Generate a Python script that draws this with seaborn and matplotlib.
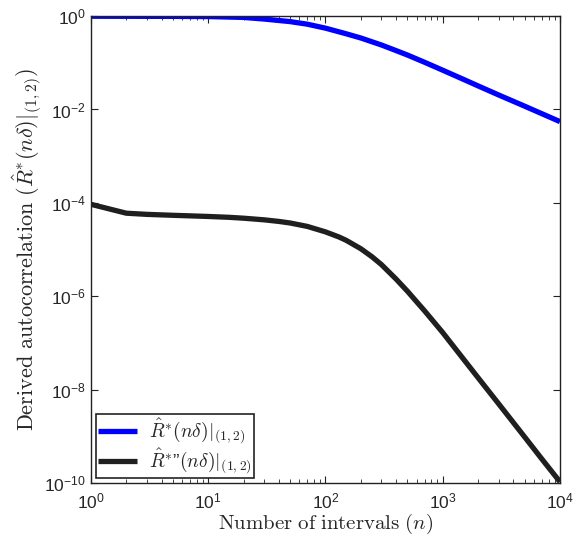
import numpy as np
import pandas as pd
import matplotlib
matplotlib.use("Agg")
import matplotlib.pyplot as plt
import matplotlib.ticker as mticker
import seaborn as sns

# Data (log10 of values)
n_blue = [1, 2, 5, 10, 20, 30, 50, 70, 100, 150, 200, 300, 400, 500, 700,
          1000, 1500, 2000, 3000, 5000, 7000, 10000]
log_blue = [-0.005, -0.006, -0.008, -0.012, -0.03, -0.065, -0.12, -0.175,
            -0.26, -0.38, -0.47, -0.62, -0.74, -0.835, -0.99, -1.16, -1.355,
            -1.495, -1.69, -1.93, -2.09, -2.26]
n_black = [1, 2, 3, 5, 7, 10, 15, 20, 30, 40, 50, 70, 100, 130, 150, 200, 250,
           300, 400, 500, 700, 1000, 1500, 2000, 3000, 5000, 7000, 10000]
log_black = [-4.03, -4.22, -4.245, -4.265, -4.277, -4.29, -4.308, -4.327,
             -4.362, -4.396, -4.43, -4.503, -4.62, -4.728, -4.80, -4.98,
             -5.155, -5.32, -5.63, -5.89, -6.31, -6.775, -7.34, -7.74, -8.30,
             -9.01, -9.48, -9.97]

label_blue = r"$\hat{R}^{*}(n\delta)|_{(1,2)}$"
label_black = r"$\hat{R}^{*}$”$(n\delta)|_{(1,2)}$"

df = pd.concat([
    pd.DataFrame({"n": n_blue, "R": np.power(10.0, log_blue), "series": label_blue}),
    pd.DataFrame({"n": n_black, "R": np.power(10.0, log_black), "series": label_black}),
])

sns.set_style("ticks")
plt.rcParams["font.family"] = ["Liberation Sans", "DejaVu Sans"]
plt.rcParams["mathtext.fontset"] = "cm"

fig = plt.figure(figsize=(5.86, 5.43), dpi=100)
ax = fig.add_axes([0.1553, 0.110, 0.8003, 0.8605])

sns.lineplot(data=df, x="n", y="R", hue="series", sort=False,
             palette={label_blue: "#0000ff", label_black: "#1f1f1f"},
             linewidth=3.8, ax=ax, legend=True,
             solid_joinstyle="round", solid_capstyle="butt")

ax.set_xscale("log")
ax.set_yscale("log")
ax.set_xlim(1, 1e4)
ax.set_ylim(1e-10, 1)

ax.xaxis.set_major_locator(mticker.LogLocator(base=10, numticks=10))
ax.xaxis.set_minor_locator(mticker.LogLocator(base=10, subs=np.arange(2, 10), numticks=50))
ax.xaxis.set_minor_formatter(mticker.NullFormatter())
ax.yaxis.set_major_locator(mticker.FixedLocator([1e-10, 1e-8, 1e-6, 1e-4, 1e-2, 1]))
ax.yaxis.set_minor_locator(mticker.NullLocator())

ax.tick_params(which="both", direction="in", top=True, right=True, labelsize=12.5,
               color="#222222")
ax.tick_params(which="major", length=5, width=0.8)
ax.tick_params(which="minor", length=3, width=0.6)
ax.tick_params(axis="x", pad=6)
for s in ax.spines.values():
    s.set_linewidth(1.0)
    s.set_color("#222222")

ax.set_xlabel(r"$\mathrm{Number\ of\ intervals}\ (n)$", fontsize=15, labelpad=0)
ax.set_ylabel(r"$\mathrm{Derived\ autocorrelation}\ (\hat{R}^{*}(n\delta)|_{(1,2)})$",
              fontsize=16, labelpad=1)

leg = ax.legend(loc="lower left", fontsize=14, frameon=True, fancybox=False,
                edgecolor="#222222", handlelength=2.0, borderpad=0.12,
                labelspacing=0.02, borderaxespad=0.25, handletextpad=0.6,
                title=None)
leg.get_frame().set_linewidth(1.2)
leg.get_frame().set_alpha(1.0)

fig.savefig("out.png", dpi=100)
